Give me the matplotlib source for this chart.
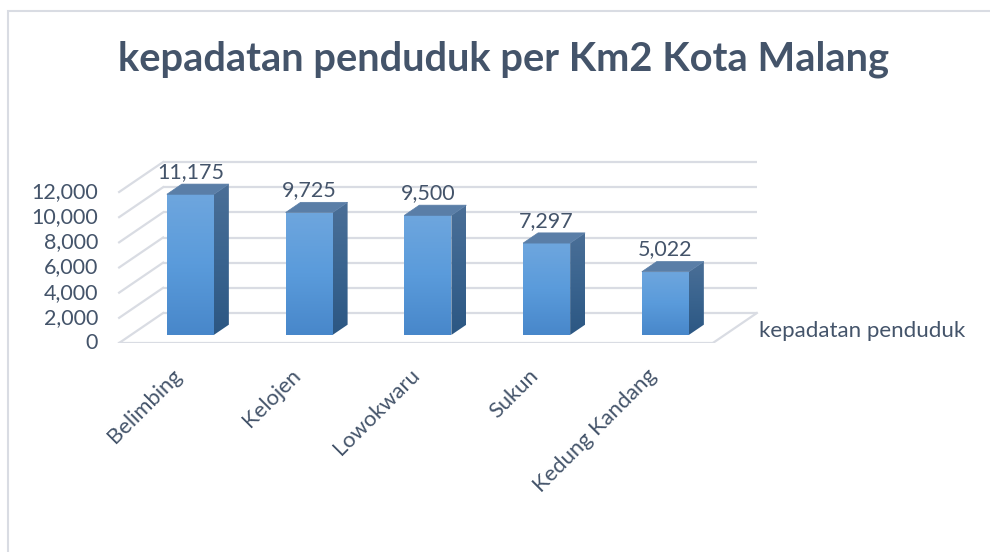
import numpy as np
import matplotlib
matplotlib.use("Agg")
import matplotlib.pyplot as plt
from matplotlib.patches import Polygon, Rectangle
from matplotlib.colors import LinearSegmentedColormap
import matplotlib.transforms as mtransforms

# ---- data ----
categories = ["Belimbing", "Kelojen", "Lowokwaru", "Sukun", "Kedung Kandang"]
values = [11175, 9725, 9500, 7297, 5022]
value_labels = ["11,175", "9,725", "9,500", "7,297", "5,022"]
yticks = [0, 2000, 4000, 6000, 8000, 10000, 12000]
ytick_labels = ["0", "2,000", "4,000", "6,000", "8,000", "10,000", "12,000"]
series_name = "kepadatan penduduk"
title = "kepadatan penduduk per Km2 Kota Malang"

# ---- layout ----
W, H = 990, 552
fig = plt.figure(figsize=(W / 100, H / 100), dpi=100)
fig.patch.set_facecolor("white")

FONT = ["Lato", "DejaVu Sans"]
TXT = "#44546A"
GRID = "#D9DCE3"

px0, sx = 178.5, 118.75         # pixel of x=0 on the front plane, pixels per category
py0, sy = 343.0, 151.0 / 12000  # pixel of value 0 on front plane, pixels per unit
xlo, xhi = -0.6, 5.2
ylo, yhi = 0, 15500
ax = fig.add_axes([(px0 + xlo * sx) / W, (H - py0) / H,
                   (xhi - xlo) * sx / W, (yhi - ylo) * sy / H])
ax.set_xlim(xlo, xhi)
ax.set_ylim(ylo, yhi)
ax.axis("off")

DX = 44.0 / sx          # floor depth offset in category units
DY = 30.0 / sy          # floor depth offset in value units
fl, fr = -0.5, 4.5      # floor extents
f0, f1 = 0.27, 0.61     # bar depth range as fraction of floor depth
bw = 0.396

# chart border
fig.patches.append(Rectangle((8 / W, -0.1), 1.2, 1 - 11 / H + 0.1,
                             transform=fig.transFigure, fill=False,
                             edgecolor="#D9DCE3", lw=1.5, zorder=0))

# walls / floor
for v in yticks:
    ax.plot([fl + DX, fr + DX], [v + DY, v + DY], color=GRID, lw=1.6, zorder=1,
            solid_capstyle="butt")
    ax.plot([fl, fl + DX], [v, v + DY], color=GRID, lw=1.6, zorder=1)
ax.plot([fl, fr], [0, 0], color=GRID, lw=1.6, zorder=1)
ax.plot([fr, fr + DX], [0, DY], color=GRID, lw=1.6, zorder=1)

# y tick labels
off_left = mtransforms.offset_copy(ax.transData, fig=fig, x=-21, y=0, units="dots")
for v, lab in zip(yticks, ytick_labels):
    ax.text(fl, v, lab, transform=off_left, ha="right", va="center",
            fontsize=15.5, color=TXT, family=FONT)

front_cmap = LinearSegmentedColormap.from_list("f", ["#4887CA", "#5A9BDB", "#6EA6DE"])
side_cmap = LinearSegmentedColormap.from_list("s", ["#2C5783", "#3A648F", "#4B6F97"])
grad = np.linspace(0, 1, 256).reshape(-1, 1)

off_lab = mtransforms.offset_copy(ax.transData, fig=fig, x=0, y=6, units="dots")
for i, (v, vl) in enumerate(zip(values, value_labels)):
    x0 = i - bw / 2 + f0 * DX
    x1 = i + bw / 2 + f0 * DX
    yb = f0 * DY
    ddx = (f1 - f0) * DX
    ddy = (f1 - f0) * DY
    front = Polygon([[x0, yb], [x1, yb], [x1, yb + v], [x0, yb + v]], closed=True,
                    facecolor="none", edgecolor="none", zorder=3)
    ax.add_patch(front)
    im = ax.imshow(grad, cmap=front_cmap, origin="lower", aspect="auto",
                   extent=[x0, x1, yb, yb + v], zorder=3, interpolation="bilinear")
    im.set_clip_path(front)
    side = Polygon([[x1, yb], [x1 + ddx, yb + ddy], [x1 + ddx, yb + ddy + v], [x1, yb + v]],
                   closed=True, facecolor="none", edgecolor="none", zorder=3)
    ax.add_patch(side)
    im2 = ax.imshow(grad, cmap=side_cmap, origin="lower", aspect="auto",
                    extent=[x1, x1 + ddx, yb, yb + ddy + v], zorder=3,
                    interpolation="bilinear")
    im2.set_clip_path(side)
    top = Polygon([[x0, yb + v], [x1, yb + v], [x1 + ddx, yb + v + ddy], [x0 + ddx, yb + v + ddy]],
                  closed=True, facecolor="#5A7EA7", edgecolor="#5A7EA7", lw=0.5, zorder=3)
    ax.add_patch(top)
    ax.text((x0 + x1) / 2, v + f1 * DY, vl, transform=off_lab, ha="center",
            va="baseline", fontsize=15.5, color=TXT, family=FONT, zorder=4)

ax.set_xlim(xlo, xhi)
ax.set_ylim(ylo, yhi)

# category labels
off_cat = mtransforms.offset_copy(ax.transData, fig=fig, x=-7, y=-22, units="dots")
for i, c in enumerate(categories):
    ax.text(i, 0, c, transform=off_cat, rotation=45, rotation_mode="anchor",
            ha="right", va="top", fontsize=15.8, color=TXT, family=FONT)

# series name (legend)
fig.text(759 / W, 1 - 331 / H, series_name, ha="left", va="center",
         fontsize=16, color=TXT, family=FONT)

# title
fig.text(504 / W, 1 - 59 / H, title, ha="center", va="center",
         fontsize=28.7, fontweight="bold", color=TXT, family=FONT)

fig.savefig("out.png", dpi=100, facecolor="white")
